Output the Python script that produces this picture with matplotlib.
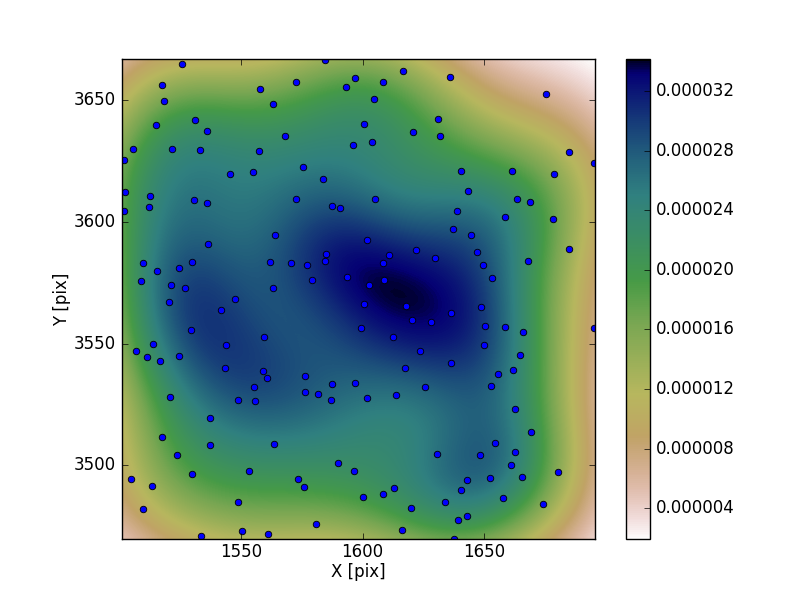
#!/usr/bin/env python3
"""Source positions with a Gaussian kernel density map behind them."""

import matplotlib
matplotlib.use('Agg')
import matplotlib.pyplot as plt
import numpy as np

# source positions
x_pix = [
    1526.1, 1584.6, 1517.9, 1558.1, 1572.8, 1593.3, 1597.0, 1518.7, 1563.1, 1531.4,
    1515.4, 1536.1, 1600.5, 1568.3, 1596.2, 1505.6, 1521.6, 1533.1, 1557.7, 1502.2,
    1575.7, 1545.4, 1555.2, 1583.9, 1502.7, 1512.6, 1501.9, 1512.2, 1531.0, 1536.1,
    1572.8, 1587.6, 1590.8, 1564.2, 1536.7, 1585.1, 1584.7, 1510.1, 1530.2, 1562.2,
    1570.8, 1577.3, 1515.8, 1524.5, 1508.9, 1579.4, 1593.7, 1521.2, 1527.3, 1563.4,
    1608.6, 1616.8, 1635.7, 1675.4, 1604.5, 1631.1, 1620.9, 1631.6, 1603.7, 1684.8,
    1695.1, 1640.6, 1661.5, 1678.7, 1643.4, 1663.5, 1668.9, 1605.3, 1638.9, 1658.6,
    1678.3, 1637.3, 1644.7, 1602.0, 1684.8, 1622.1, 1647.1, 1610.7, 1629.9, 1608.2,
    1649.6, 1668.0, 1653.3, 1609.0, 1602.5,
    1520.4, 1547.8, 1542.1, 1529.8, 1600.5, 1599.5, 1559.7, 1544.1, 1513.8, 1507.2,
    1511.7, 1516.7, 1524.5, 1543.7, 1559.3, 1560.9, 1555.6, 1576.5, 1587.6, 1597.0,
    1576.5, 1581.8, 1587.2, 1549.0, 1556.0, 1520.8, 1537.6, 1517.5, 1537.6, 1563.8,
    1524.0, 1590.0, 1596.6, 1553.6, 1530.2, 1504.8, 1573.6, 1576.1, 1513.4, 1600.0,
    1549.0, 1509.7, 1581.0, 1550.7, 1561.3, 1533.9,
    1618.0, 1648.8, 1620.1, 1627.9, 1636.1, 1650.4, 1658.6, 1666.0, 1612.3, 1650.0,
    1623.5, 1664.8, 1617.6, 1636.1, 1661.9, 1655.7, 1652.9, 1625.8, 1613.9, 1602.0,
    1662.7, 1669.3, 1654.5, 1662.7, 1630.7, 1648.4, 1661.1, 1680.3, 1643.0, 1652.5,
    1665.6, 1640.6, 1613.1, 1608.2, 1619.7, 1634.0, 1657.8, 1674.2, 1643.0, 1639.3,
    1616.0, 1637.7, 1695.1,
]
y_pix = [
    3664.8, 3666.5, 3656.1, 3654.5, 3657.4, 3655.3, 3659.0, 3649.6, 3648.4, 3641.8,
    3639.8, 3637.3, 3640.2, 3635.2, 3631.6, 3629.9, 3629.9, 3629.5, 3629.1, 3625.4,
    3622.5, 3619.7, 3620.5, 3617.6, 3612.3, 3610.7, 3604.5, 3606.1, 3609.0, 3607.8,
    3609.4, 3606.6, 3605.7, 3594.7, 3591.0, 3586.9, 3584.0, 3583.2, 3583.6, 3583.6,
    3583.2, 3582.4, 3579.9, 3581.1, 3575.8, 3576.2, 3577.5, 3574.2, 3573.0, 3573.0,
    3657.4, 3661.9, 3659.4, 3652.5, 3650.4, 3642.2, 3636.9, 3635.2, 3632.8, 3628.7,
    3624.2, 3620.9, 3620.9, 3619.7, 3612.7, 3609.4, 3608.2, 3609.4, 3604.5, 3602.0,
    3601.2, 3597.1, 3594.7, 3592.6, 3588.9, 3588.5, 3587.7, 3586.5, 3585.2, 3583.2,
    3582.4, 3584.0, 3577.1, 3576.2, 3574.2,
    3567.2, 3568.4, 3563.9, 3555.7, 3566.4, 3556.6, 3552.9, 3549.6, 3550.0, 3547.1,
    3544.7, 3543.0, 3545.1, 3540.2, 3538.9, 3535.7, 3532.0, 3536.9, 3533.6, 3534.0,
    3530.3, 3529.5, 3527.0, 3527.0, 3526.6, 3527.9, 3519.3, 3511.5, 3508.2, 3508.6,
    3504.1, 3500.8, 3497.5, 3497.5, 3496.3, 3494.3, 3494.3, 3491.0, 3491.4, 3486.9,
    3484.8, 3482.0, 3475.8, 3473.0, 3471.7, 3470.9,
    3565.6, 3565.2, 3559.8, 3559.0, 3562.7, 3557.4, 3557.0, 3554.9, 3552.9, 3549.6,
    3547.1, 3545.5, 3539.8, 3542.2, 3539.3, 3537.7, 3532.8, 3532.4, 3529.1, 3527.5,
    3523.0, 3513.9, 3509.4, 3505.7, 3504.5, 3504.1, 3500.0, 3497.1, 3493.9, 3494.7,
    3495.1, 3489.8, 3490.6, 3488.1, 3482.4, 3484.8, 3486.5, 3484.0, 3479.1, 3477.5,
    3473.4, 3469.7, 3556.3,
]
cbar_ticks = [0.000004, 0.000008, 0.000012, 0.000016, 0.000020, 0.000024, 0.000028, 0.000032]


def gaussian_kde_map(x, y, xmin, xmax, ymin, ymax, num=100):
    """Gaussian KDE on a regular grid, Scott bandwidth and full covariance."""
    data = np.vstack([x, y])
    n = data.shape[1]
    cov = np.cov(data) * n ** (-1.0 / 3.0)
    inv_cov = np.linalg.inv(cov)
    norm = n * 2 * np.pi * np.sqrt(np.linalg.det(cov))
    gx, gy = np.meshgrid(np.linspace(xmin, xmax, num), np.linspace(ymin, ymax, num))
    dx = gx[:, :, None] - data[0]
    dy = gy[:, :, None] - data[1]
    r2 = inv_cov[0, 0] * dx ** 2 + 2 * inv_cov[0, 1] * dx * dy + inv_cov[1, 1] * dy ** 2
    return np.exp(-0.5 * r2).sum(axis=2) / norm


plt.style.use('classic')
plt.rcParams['font.family'] = 'DejaVu Sans'

xlim = (1501.2, 1695.4)
ylim = (3469.7, 3666.8)
density = gaussian_kde_map(x_pix, y_pix, xlim[0], xlim[1], ylim[0], ylim[1])

fig = plt.figure(figsize=(8, 6), dpi=100)
ax = fig.add_axes([121.8 / 800, 60.8 / 600, 473.2 / 800, 480 / 600])
cax = fig.add_axes([626 / 800, 60.8 / 600, 24 / 800, 480 / 600])

im = ax.imshow(density, origin='lower', extent=[xlim[0], xlim[1], ylim[0], ylim[1]],
               cmap='gist_earth_r', interpolation='bilinear', aspect='auto',
               vmin=1.92e-6, vmax=3.414e-5)
ax.scatter(x_pix, y_pix, s=22, c='b', edgecolors='k', linewidths=0.6)
ax.set_xlim(xlim)
ax.set_ylim(ylim)
ax.set_xticks([1550, 1600, 1650])
ax.set_yticks([3500, 3550, 3600, 3650])
ax.tick_params(axis='x', pad=3)
ax.set_xlabel('X [pix]', labelpad=1)
ax.set_ylabel('Y [pix]', labelpad=2)

cbar = fig.colorbar(im, cax=cax, ticks=cbar_ticks, format='%.6f')

fig.savefig('out.png', dpi=100)
